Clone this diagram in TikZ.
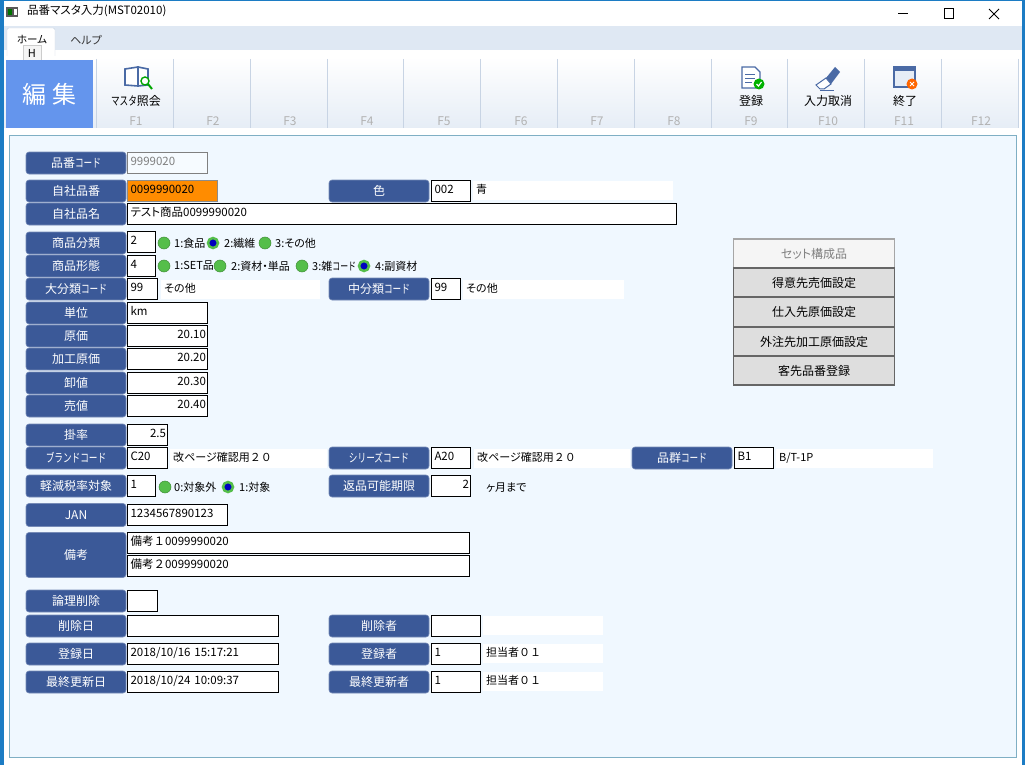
\documentclass[tikz,border=0pt]{standalone}
\usepackage{fontspec}
\setmainfont[RawFeature={+palt}]{Noto Sans CJK JP}
\newfontfamily\fullw{Noto Sans CJK JP}
\newfontfamily\narrowk[FakeStretch=0.72]{Noto Sans CJK JP}
\usetikzlibrary{positioning}
\definecolor{winblue}{HTML}{1C7CC4}
\definecolor{tabbar}{HTML}{DFE8F3}
\definecolor{panelbg}{HTML}{F0F8FF}
\definecolor{panelline}{HTML}{7FAFC4}
\definecolor{labelbg}{HTML}{3B5998}
\definecolor{ribbonend}{HTML}{E6EDF6}
\definecolor{editblue}{HTML}{6495ED}
\definecolor{sepline}{HTML}{C8D4E4}
\definecolor{btnbg}{HTML}{DEDEDE}
\definecolor{radiogreen}{HTML}{55BE4A}
\definecolor{iconblue}{HTML}{4A6AA5}
\tikzset{
  rowlabel/.style={rectangle, rounded corners=3, fill=labelbg, draw=labelbg!70!white, line width=.6, text=white, minimum width=100, minimum height=22, inner sep=0, font=\fontsize{12}{14}\selectfont},
  inbox/.style={rectangle, draw=black, fill=white, line width=1, anchor=west, minimum height=21, inner xsep=3, inner ysep=0, align=left, text height=8, text depth=4, font=\fontsize{11.5}{13}\selectfont},
  numbox/.style={inbox, inner xsep=1.5, align=right},
  stext/.style={rectangle, fill=white, anchor=west, minimum height=19, inner xsep=3, inner ysep=0, align=left, text height=9, text depth=2, font=\fontsize{11}{13}\selectfont},
  plain/.style={anchor=west, inner sep=0, font=\fontsize{11}{13}\selectfont},
  radio/.style={circle, fill=radiogreen, draw=radiogreen!75!black, line width=.5, minimum size=12, inner sep=0},
  radioon/.style={circle, fill=blue!75!black, draw=radiogreen, line width=2.5, minimum size=10, inner sep=0},
  sidebtn/.style={rectangle, fill=btnbg, draw=black!60, line width=1.2, minimum width=161, minimum height=29, inner sep=0, font=\fontsize{12}{14}\selectfont},
  fkey/.style={inner sep=0, text=black!30, font=\fontsize{12}{14}\selectfont},
  caption/.style={inner sep=0, font=\fontsize{12}{14}\selectfont},
}
\begin{document}
\begin{tikzpicture}[x=1pt, y=-1pt]
\useasboundingbox (0,0) rectangle (1025,765);
% window
\fill[white] (0,0) rectangle (1025,765);
\fill[winblue] (0,0) rectangle (1025,1);
\fill[winblue] (0,0) rectangle (4,765);
\fill[winblue] (1022,0) rectangle (1025,765);
\fill[tabbar] (4,26) rectangle (1022,50);
\draw[sepline] (4,56) -- (1018,56);
\shade[top color=white, bottom color=ribbonend] (4,57) rectangle (1018,128);
\fill[panelbg, draw=panelline] (9,135) rectangle (1016,757);
% title bar
\fill[black!65] (6,7) rectangle (18,17);
\fill[green!45!black] (8,9) rectangle (12,15);
\fill[white] (14,9) rectangle (17,15);
\node (title) [plain, font=\fontsize{11.5}{14}\selectfont] at (27,11) {品番マスタ入力(MST02010)};
\draw[line width=1] (898,14) -- (908,14);
\draw[line width=1] (944,9) rectangle (953,19);
\draw[line width=1] (989,9) -- (999,19) (999,9) -- (989,19);
% tabs
\fill[white, draw=sepline, rounded corners=2] (7,56) -- (7,28) -- (55,28) -- (55,56);
\node (home) [caption, font=\fontsize{10.5}{13}\selectfont] at (32,40) {ホーム};
\node (help) [caption, font=\fontsize{11}{13}\selectfont, text=black!80] at (86,40) {ヘルプ};
\node (keytip) [rectangle, fill=black!4, draw=black!20, minimum width=18, minimum height=16, inner sep=0, font=\fontsize{11}{13}\selectfont] at (32,53) {H};
% ribbon
\node (edit) [rectangle, fill=editblue, text=white, minimum width=87, minimum height=68, inner sep=0, font=\fontsize{24}{28}\selectfont] at (49.5,94) {編 集};
\foreach \x in {96,173,250,327,403,480,557,634,711,787,864,941,1018}
  \draw[sepline] (\x,59) -- (\x,128);
\foreach \x/\k in {136/F1,213/F2,290/F3,367/F4,444/F5,521/F6,597/F7,674/F8,751/F9,828/F10,904/F11,981/F12}
  \node (key\k) [fkey] at (\x,121) {\k};
\node (capview) [caption] at (136,101) {{\narrowk マスタ}照会};
\node (capsave) [caption] at (751,101) {登録};
\node (capundo) [caption] at (828,101) {入力取消};
\node (capend) [caption] at (905,101) {終了};
% icons
\draw[iconblue, line width=1.6, fill=white] (125,85) -- (125,69) -- (138,67) -- (138,86) -- cycle;
\draw[iconblue, line width=1.6, fill=white] (138,86) -- (138,67) -- (148,69) -- (148,85) -- cycle;
\draw[green!65!black, line width=1.4, fill=white] (145,81) circle (4);
\draw[green!65!black, line width=2] (148,84) -- (152,89);
\draw[iconblue, line width=1.1, fill=white] (742,67) -- (755,67) -- (760,72) -- (760,88) -- (742,88) -- cycle;
\draw[iconblue, line width=.8] (745,74) -- (755,74) (745,78) -- (755,78) (745,82) -- (752,82);
\fill[green!70!black] (759,84) circle (5.5);
\draw[white, line width=1.1] (756.5,84) -- (758.5,86) -- (761.5,82);
\fill[iconblue] (826,78) -- (835,67) -- (840,72) -- (831,84) -- cycle;
\draw[iconblue, line width=1, fill=white] (816,85) -- (826,78) -- (831,84) -- (824,89) -- (820,89) -- cycle;
\draw[iconblue] (820,90) -- (834,90);
\draw[iconblue, line width=1.1, fill=ribbonend] (894,67) rectangle (915,87);
\fill[iconblue] (894,67) rectangle (915,71);
\fill[orange!80!red] (912,84) circle (5.5);
\draw[white, line width=1] (910,82) -- (914,86) (914,82) -- (910,86);
% rows
\node (lblhincd) [rowlabel] at (76,163) {品番{\narrowk コード}};
\node (valhincd) [inbox, draw=black!50, fill=panelbg!60!white, text=black!50, text width=74] at (127,163) {9999020};
\node (lbljisha) [rowlabel] at (76,191) {自社品番};
\node (valjisha) [inbox, draw=black!45, fill=orange!90!yellow, text width=84] at (127,191) {0099990020};
\node (lblcolor) [rowlabel] at (379,191) {色};
\node (valcolor) [inbox, text width=33] at (431,191) {002};
\node (txtcolor) [stext, text width=194] at (473,190) {青};
\node (lblname) [rowlabel] at (76,214) {自社品名};
\node (valname) [inbox, text width=543] at (127,214) {テスト商品0099990020};
\node (lblbunrui) [rowlabel] at (76,243) {商品分類};
\node (valbunrui) [inbox, text width=22] at (127,242) {2};
\node (rb1) [radio] at (164,243) {};
\node (tb1) [plain] at (174,243) {1:食品};
\node (rb2) [radioon] at (213,243) {};
\node (tb2) [plain] at (224,243) {2:繊維};
\node (rb3) [radio] at (265,243) {};
\node (tb3) [plain] at (275,243) {3:その他};
\node (lblkeitai) [rowlabel] at (76,266) {商品形態};
\node (valkeitai) [inbox, text width=22] at (127,266) {4};
\node (rk1) [radio] at (164,266) {};
\node (tk1) [plain] at (174,266) {1:SET品};
\node (rk2) [radio] at (220,266) {};
\node (tk2) [plain] at (231,266) {2:資材・単品};
\node (rk3) [radio] at (302,266) {};
\node (tk3) [plain] at (312,266) {3:雑{\narrowk コード}};
\node (rk4) [radioon] at (364,266) {};
\node (tk4) [plain] at (375,266) {4:副資材};
\node (lbllarge) [rowlabel] at (76,289) {大分類{\narrowk コード}};
\node (vallarge) [inbox, text width=24] at (127,289) {99};
\node (txtlarge) [stext, text width=153] at (161,289) {その他};
\node (lblmid) [rowlabel] at (379,289) {中分類{\narrowk コード}};
\node (valmid) [inbox, text width=23] at (431,289) {99};
\node (txtmid) [stext, text width=155] at (463,289) {その他};
\node (lblunit) [rowlabel] at (76,313) {単位};
\node (valunit) [inbox, text width=74] at (127,313) {km};
\foreach \y/\n/\t/\v in {336/cost/原価/20.10, 359/proc/加工原価/20.20, 383/whole/卸値/20.30, 406/sale/売値/20.40} {
  \node (lbl\n) [rowlabel] at (76,\y) {\t};
  \node (val\n) [numbox, text width=77] at (127,\y) {\v};
}
\node (lblrate) [rowlabel] at (76,435) {掛率};
\node (valrate) [numbox, text width=37] at (127,435) {2.5};
\node (lblbrand) [rowlabel] at (76,458) {\narrowk ブランドコード};
\node (valbrand) [inbox, text width=34] at (127,458) {C20};
\node (txtbrand) [stext, text width=151] at (170,458) {改ページ確認用{\fullw ２０}};
\node (lblseries) [rowlabel] at (379,458) {\narrowk シリーズコード};
\node (valseries) [inbox, text width=33] at (431,458) {A20};
\node (txtseries) [stext, text width=150] at (474,458) {改ページ確認用{\fullw ２０}};
\node (lblgroup) [rowlabel] at (682,458) {品群{\narrowk コード}};
\node (valgroup) [inbox, text width=33] at (734,458) {B1};
\node (txtgroup) [stext, text width=151] at (776,458) {B/T-1P};
\node (lbltax) [rowlabel] at (76,486) {軽減税率対象};
\node (valtax) [inbox, text width=22] at (127,486) {1};
\node (rt1) [radio] at (165,487) {};
\node (tt1) [plain] at (174,487) {0:対象外};
\node (rt2) [radioon] at (228,487) {};
\node (tt2) [plain] at (239,487) {1:対象};
\node (lblreturn) [rowlabel] at (379,486) {返品可能期限};
\node (valreturn) [numbox, text width=36] at (431,486) {2};
\node (txtreturn) [plain] at (486,488) {ヶ月まで};
\node (lbljan) [rowlabel, minimum height=23] at (76,515) {JAN};
\node (valjan) [inbox, text width=94] at (127,515) {1234567890123};
\node (lblnote) [rowlabel, minimum height=45] at (76,555) {備考};
\node (valnotea) [inbox, text width=336] at (127,543) {備考{\fullw １}0099990020};
\node (valnoteb) [inbox, text width=336] at (127,566) {備考{\fullw ２}0099990020};
\node (lbldel) [rowlabel] at (76,601) {論理削除};
\node (valdel) [inbox, text width=24] at (127,601) {};
\node (lbldeld) [rowlabel] at (76,626) {削除日};
\node (valdeld) [inbox, text width=145] at (127,626) {};
\node (lbldelu) [rowlabel] at (379,626) {削除者};
\node (valdelu) [inbox, text width=43] at (431,626) {};
\node (txtdelu) [stext, text width=114] at (483,625) {};
\node (lblregd) [rowlabel] at (76,654) {登録日};
\node (valregd) [inbox, text width=145] at (127,654) {2018/10/16 15:17:21};
\node (lblregu) [rowlabel] at (379,654) {登録者};
\node (valregu) [inbox, text width=43] at (431,654) {1};
\node (txtregu) [stext, text width=114] at (483,653) {\fullw 担当者０１};
\node (lblupdd) [rowlabel] at (76,682) {最終更新日};
\node (valupdd) [inbox, text width=145] at (127,682) {2018/10/24 10:09:37};
\node (lblupdu) [rowlabel] at (379,682) {最終更新者};
\node (valupdu) [inbox, text width=43] at (431,682) {1};
\node (txtupdu) [stext, text width=114] at (483,681) {\fullw 担当者０１};
% side buttons
\node (btnset) [sidebtn, fill=black!4, draw=black!35, text=black!50] at (814,253.5) {セット構成品};
\node (btncust) [sidebtn] at (814,282.5) {得意先売価設定};
\node (btnsupp) [sidebtn] at (814,312) {仕入先原価設定};
\node (btnout) [sidebtn] at (814,341.5) {外注先加工原価設定};
\node (btnclient) [sidebtn] at (814,370.5) {客先品番登録};
\end{tikzpicture}
\end{document}
